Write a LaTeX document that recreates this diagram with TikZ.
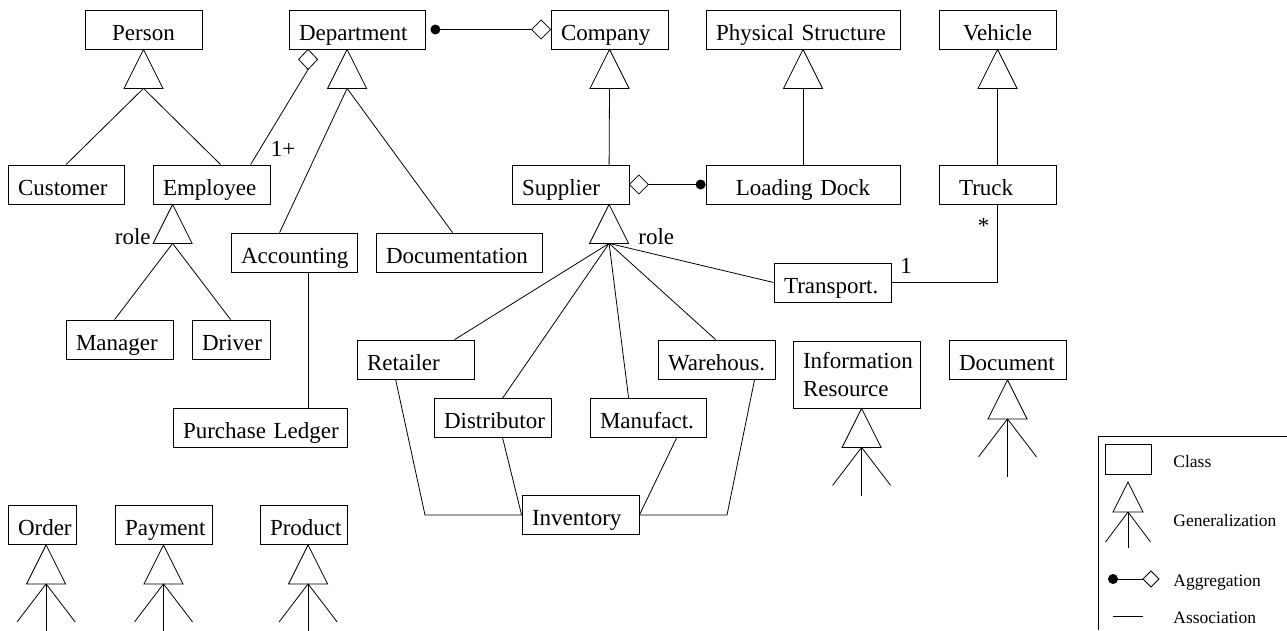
\documentclass[tikz,border=0pt]{standalone}
\usepackage{fontspec}
\setmainfont{Liberation Serif}
\usetikzlibrary{calc}
\hyphenpenalty=10000
\exhyphenpenalty=10000
\hfuzz=30pt
\hbadness=10000
\newcommand\mainsz{\fontsize{23}{28}\selectfont}
\newcommand\legsz{\fontsize{17.5}{21}\selectfont}
\newcommand\gentri[2]{\draw (#1) -- ++(-19.5,39) -- ++(39,0) -- cycle; \coordinate (#2) at ($(#1)+(0,39)$);}
\newcommand\genfeet[2]{\draw (#1) -- ++(0,#2); \draw (#1) -- ++(-29,38); \draw (#1) -- ++(29,38);}
\begin{document}
\begin{tikzpicture}[x=1pt,y=-1pt, line width=0.8pt,
  cls/.style={draw, inner xsep=10pt, inner ysep=0pt, text height=30pt, text depth=9pt, align=left, text width=#1, font=\mainsz},
  cls/.default=97pt,
  ccls/.style={cls=#1, align=center}, ccls/.default=97pt,
  lbl/.style={inner sep=0pt, font=\mainsz},
  leg/.style={inner sep=0pt, font=\legsz, anchor=base west}]
\useasboundingbox (0,0) rectangle (1287,630);

% classes
\node[ccls] (person) at (143.5,29.5) {Person};
\node[cls=116pt] (dept) at (357,29.5) {Department};
\node[cls] (company) at (609.5,29.5) {Company};
\node[cls=174pt] (phys) at (803,29.5) {\mbox{Physical Structure}};
\node[ccls] (vehicle) at (997.5,29.5) {Vehicle};
\node[cls=96pt] (customer) at (66,184.5) {Customer};
\node[cls] (employee) at (211.5,184.5) {Employee};
\node[cls] (supplier) at (570.5,184.5) {Supplier};
\node[ccls=174pt] (dock) at (803,184.5) {\mbox{Loading Dock}};
\node[cls=77pt, inner xsep=20pt] (truck) at (997.5,184.5) {Truck};
\node[cls=106pt] (acc) at (294,252.5) {Accounting};
\node[cls=146pt] (doc) at (459,252.5) {Documentation};
\node[cls] (transport) at (832.5,282.5) {Transport.};
\node[cls=87pt] (manager) at (119.5,339.5) {Manager};
\node[cls=58pt] (driver) at (231,339.5) {Driver};
\node[cls] (retailer) at (415.5,359.5) {Retailer};
\node[cls] (warehouse) at (716.5,359.5) {Warehous.};
\node[cls] (distributor) at (492.5,418) {Distributor};
\node[cls=96pt] (manufact) at (648,418) {Manufact.};
\node[cls=154pt] (ledger) at (260,427.5) {\mbox{Purchase Ledger}};
\node[cls] (inventory) at (580.5,515) {Inventory};
\node[draw, inner xsep=10pt, inner ysep=0pt, minimum height=67pt, align=left, text width=107pt, font=\mainsz] (info) at (856.5,374.5) {Information\\Resource};
\node[cls] (document) at (1007.5,360) {Document};
\node[cls=48pt] (order) at (42,525) {Order};
\node[cls=77pt] (payment) at (163.5,525) {Payment};
\node[cls=67pt] (product) at (303.5,525) {Product};

% Person generalization
\gentri{person.south}{pb}
\draw (pb) -- (customer.north);
\draw (pb) -- ($(employee.north west)+(68,0)$);

% Department aggregation of Employee
\coordinate (da) at ($(dept.south west)+(19.5,0)$);
\draw (da) -- ++(-9.5,10) -- ++(9.5,10) -- ++(9.5,-10) -- cycle;
\coordinate (db) at ($(da)+(0,20)$);
\draw (db) -- ($(employee.north west)+(98,0)$);
\node[lbl, anchor=base] at (283,156) {1+};

% Department generalization
\coordinate (dta) at ($(dept.south west)+(58.5,0)$);
\gentri{dta}{dtb}
\draw (dtb) -- ($(acc.north west)+(49,0)$);
\draw (dtb) -- ($(doc.north west)+(77,0)$);

% Employee role generalization
\coordinate (eta) at ($(employee.south west)+(20,0)$);
\gentri{eta}{etb}
\draw (etb) -- ($(manager.north west)+(49,0)$);
\draw (etb) -- ($(driver.north west)+(39,0)$);
\node[lbl, anchor=base east] at (151,244) {role};

% Accounting -- Purchase Ledger
\draw ($(acc.south west)+(78,0)$) -- ($(ledger.north west)+(136,0)$);

% Department -- Company aggregation
\coordinate (dcdot) at ($(dept.east)+(10,0)$);
\fill (dcdot) circle (5pt);
\draw (dcdot) -- ($(company.west)+(-19,0)$);
\draw (company.west) -- ++(-9.5,-9.5) -- ++(-9.5,9.5) -- ++(9.5,9.5) -- cycle;

% Company, Physical Structure, Vehicle generalizations
\gentri{company.south}{cb}
\draw (cb) -- ($(supplier.north west)+(97.5,0)$);
\gentri{phys.south}{psb}
\draw (psb) -- (dock.north);
\gentri{vehicle.south}{vb}
\draw (vb) -- (truck.north);

% Supplier -- Loading Dock aggregation
\draw (supplier.east) -- ++(9.5,-9.5) -- ++(9.5,9.5) -- ++(-9.5,9.5) -- cycle;
\coordinate (sddot) at ($(dock.west)+(-5,0)$);
\draw ($(supplier.east)+(19,0)$) -- (sddot);
\fill (sddot) circle (5pt);

% Supplier role generalization
\coordinate (sa) at ($(supplier.south west)+(97.5,0)$);
\gentri{sa}{sb}
\draw (sb) -- ($(retailer.north west)+(98,0)$);
\draw (sb) -- ($(distributor.north west)+(69,0)$);
\draw (sb) -- ($(manufact.north west)+(39,0)$);
\draw (sb) -- ($(warehouse.north west)+(58,0)$);
\draw (sb) -- (transport.west);
\node[lbl, anchor=base west] at (638,244) {role};

% Transport -- Truck
\draw (transport.east) -| (truck.south);
\node[lbl, anchor=base] at (906,273) {1};
\node[lbl, anchor=base] at (983.5,233.5) {*};

% Inventory associations
\coordinate (rbend) at (425,515);
\draw ($(retailer.south west)+(39,0)$) -- (rbend) -- (inventory.west);
\draw ($(distributor.south west)+(69,0)$) -- (inventory.west);
\draw ($(manufact.south west)+(87,0)$) -- (inventory.east);
\coordinate (wbend) at (727,515);
\draw ($(warehouse.south west)+(97,0)$) -- (wbend) -- (inventory.east);

% open generalizations
\coordinate (oa) at ($(order.south west)+(38.5,0)$);
\gentri{oa}{ob}
\genfeet{ob}{47}
\gentri{payment.south}{payb}
\genfeet{payb}{47}
\coordinate (pra) at ($(product.south west)+(48.5,0)$);
\gentri{pra}{prb}
\genfeet{prb}{47}
\coordinate (ia) at ($(info.south west)+(69,0)$);
\gentri{ia}{ib}
\genfeet{ib}{49}
\gentri{document.south}{docb}
\genfeet{docb}{58}

% legend
\draw (1098,630) -- (1098,436.5) -- (1287,436.5);
\node[draw, minimum width=46pt, minimum height=30pt, inner sep=0pt] (lclass) at (1128,459) {};
\node[leg] (lclasst) at (1173,467) {Class};
\coordinate (lga) at (1128,482);
\draw (lga) -- ++(-15,30) -- ++(30,0) -- cycle;
\coordinate (lgb) at (1128,512);
\draw (lgb) -- ++(0,36);
\draw (lgb) -- ++(-22.5,30);
\draw (lgb) -- ++(22.5,30);
\node[leg] (lgent) at (1173,526.5) {Generalization};
\coordinate (ladot) at (1113,579);
\coordinate (ladia) at (1143,579);
\fill (ladot) circle (5pt);
\draw (ladot) -- (ladia);
\draw (ladia) -- ++(8,-8) -- ++(8,8) -- ++(-8,8) -- cycle;
\node[leg] (laggt) at (1173,586) {Aggregation};
\coordinate (las1) at (1113,616);
\coordinate (las2) at (1143,616);
\draw (las1) -- (las2);
\node[leg] (lasst) at (1173,623) {Association};
\end{tikzpicture}
\end{document}
